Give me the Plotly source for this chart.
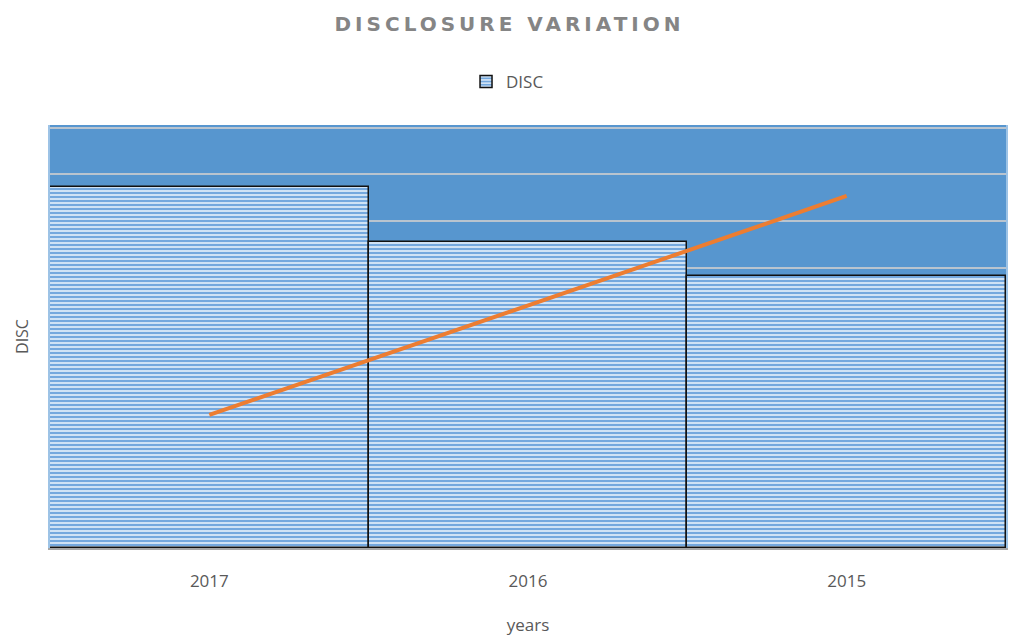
import plotly.graph_objects as go

years = ["2017", "2016", "2015"]
disc_values = [7.73, 6.55, 5.82]
trend_values = [2.85, 7.54]
trend_years = ["2017", "2015"]

fig = go.Figure()
fig.add_trace(go.Bar(
    x=years, y=disc_values, name="DISC",
    marker=dict(
        color="#74A8DE",
        line=dict(color="#111111", width=1.5),
        pattern=dict(shape="-", size=4, solidity=0.5,
                     fgcolor="#CFE2F5", bgcolor="#74A8DE", fillmode="replace"),
    ),
    showlegend=True,
))
fig.add_trace(go.Scatter(
    x=trend_years, y=trend_values, mode="lines",
    line=dict(color="#ED7D31", width=4), showlegend=False, name="trend",
))

fig.update_layout(
    width=1009, height=637,
    paper_bgcolor="white", plot_bgcolor="#5796CF",
    margin=dict(l=50, r=3, t=125, b=89, autoexpand=False),
    bargap=0,
    title=dict(text="<b><span style='letter-spacing:4px'>DISCLOSURE VARIATION</span></b>",
               x=0.505, xanchor="center", xref="container",
               y=1 - 24 / 637, yanchor="middle", yref="container",
               font=dict(family="DejaVu Sans", size=20, color="#858585")),
    legend=dict(orientation="h", x=0.503, xanchor="center", xref="container",
                y=1 - 82 / 637, yanchor="middle", yref="container",
                font=dict(family="Open Sans", size=17, color="#595959"), bgcolor="rgba(0,0,0,0)"),
    font=dict(family="Open Sans", color="#595959"),
)
fig.update_xaxes(
    title=dict(text="years", font=dict(size=17, color="#595959"), standoff=28),
    tickfont=dict(size=17, color="#595959"), ticklabelstandoff=17,
    showline=True, linecolor="#A6A6A6", linewidth=2, mirror=False,
    ticks="", showgrid=False, automargin=False,
)
fig.update_yaxes(
    title=dict(text="DISC", font=dict(size=16, color="#595959"), standoff=15),
    range=[0, 9.06], dtick=1, showticklabels=False, ticks="",
    showgrid=True, gridcolor="#B9C4CF", gridwidth=2,
    showline=True, linecolor="#9DC3E6", linewidth=2, mirror=True,
    zeroline=False, automargin=False,
)
fig.write_html("out.html", config={"displayModeBar": False},
               post_script="document.body.style.margin='0';document.body.style.overflow='hidden';")
